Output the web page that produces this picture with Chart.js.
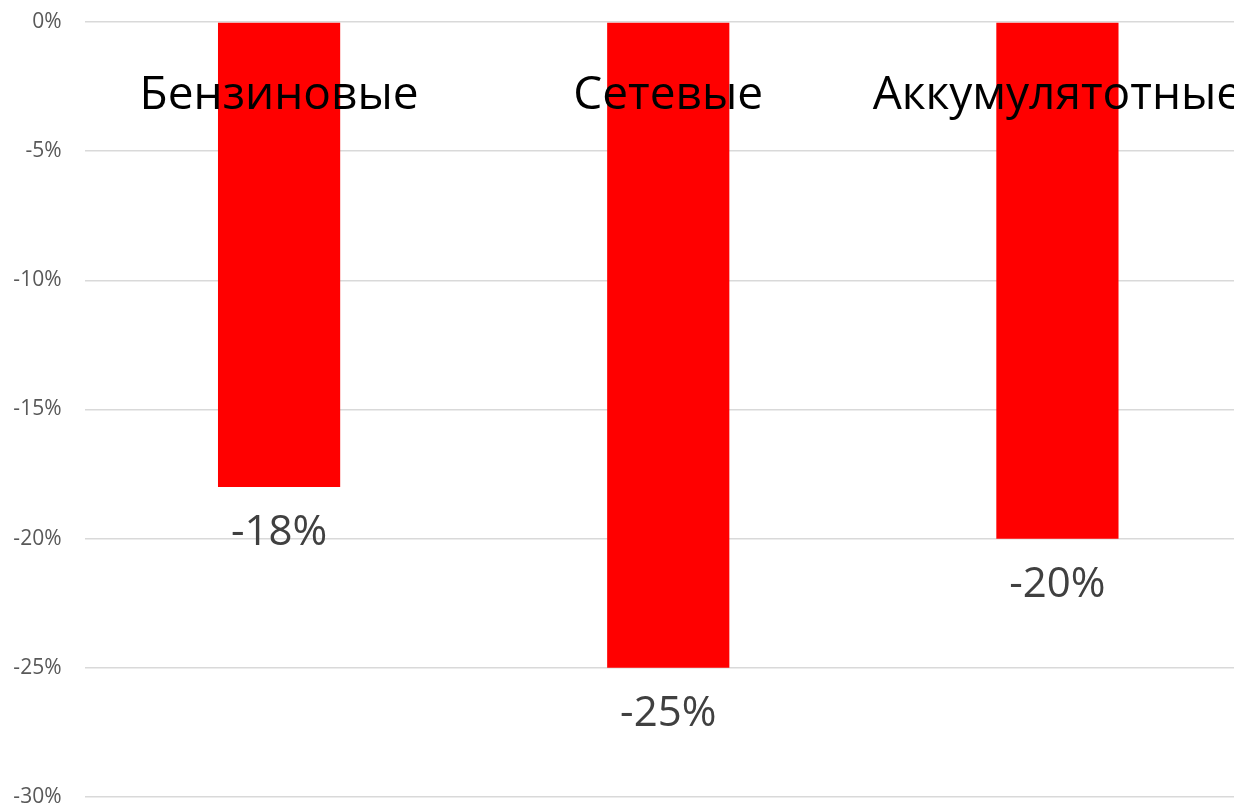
<!DOCTYPE html>
<html>
<head>
<meta charset="utf-8">
<script src="https://cdn.jsdelivr.net/npm/chart.js@4"></script>
<style>
  html, body { margin: 0; padding: 0; background: #fff; overflow: hidden; }
  canvas { display: block; }
</style>
</head>
<body>
<canvas id="grafico" width="1252" height="806"></canvas>
<script>
// dados do gráfico
const categorias = ["Бензиновые", "Сетевые", "Аккумулятотные"];
const valores = [-18, -25, -20];
const ticksY = [0, -5, -10, -15, -20, -25, -30];

const FONTE = "'Open Sans', 'Noto Sans', sans-serif";

// plugin: nomes das categorias no topo e valores abaixo das barras
const rotulos = {
  id: "rotulos",
  afterDatasetsDraw(chart) {
    const ctx = chart.ctx;
    const x = chart.scales.x;
    const y = chart.scales.y;
    ctx.save();
    ctx.textAlign = "center";
    ctx.textBaseline = "middle";
    // nomes
    ctx.fillStyle = "#000000";
    ctx.font = "46px " + FONTE;
    categorias.forEach((c, i) => {
      ctx.fillText(c, x.getPixelForValue(i), y.getPixelForValue(-2.85));
    });
    // valores
    ctx.fillStyle = "#404040";
    ctx.font = "42px " + FONTE;
    const meta = chart.getDatasetMeta(0);
    meta.data.forEach((bar, i) => {
      ctx.fillText(valores[i] + "%", bar.x, bar.y + 46);
    });
    ctx.restore();
  }
};

const grafico = new Chart(document.getElementById("grafico"), {
  type: "bar",
  data: {
    labels: categorias,
    datasets: [{
      data: valores,
      backgroundColor: "#ff0000",
      borderWidth: 0,
      categoryPercentage: 1,
      barPercentage: 0.314
    }]
  },
  options: {
    responsive: false,
    animation: false,
    layout: { padding: { top: 22, bottom: 9, left: 0, right: 0 } },
    plugins: { legend: { display: false }, tooltip: { enabled: false } },
    scales: {
      x: { display: false },
      y: {
        min: -30,
        max: 0,
        afterFit(scale) {
          scale.width = 84.5;
          scale.paddingTop = 0;
          scale.paddingBottom = 0;
        },
        afterBuildTicks(scale) { scale.ticks = ticksY.map(v => ({ value: v })); },
        border: { display: false },
        grid: { color: "#d9d9d9", lineWidth: 1.5, drawTicks: false },
        ticks: {
          padding: 23,
          color: "#595959",
          font: { family: FONTE, size: 21 },
          callback: v => v + "%"
        }
      }
    }
  },
  plugins: [rotulos]
});
</script>
</body>
</html>
